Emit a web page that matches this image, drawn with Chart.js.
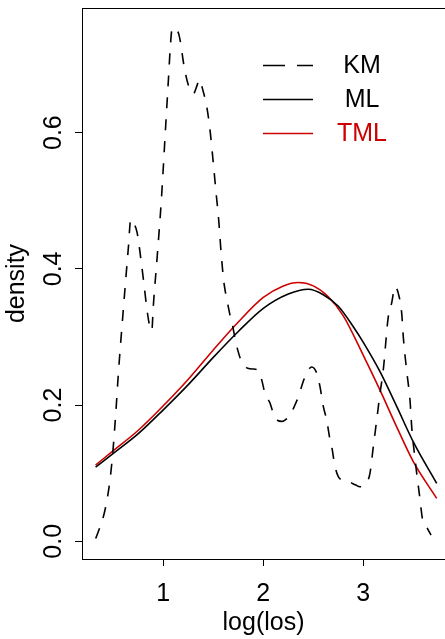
<!DOCTYPE html>
<html>
<head>
<meta charset="utf-8">
<script src="https://cdn.jsdelivr.net/npm/chart.js@4.4.1/dist/chart.umd.min.js"></script>
<style>
  html, body { margin: 0; padding: 0; background: #fff; }
  canvas { display: block; }
</style>
</head>
<body>
<canvas id="densityChart" width="445" height="639"></canvas>
<script>
// Tick positions
const xTicks = [1, 2, 3];
const yTicks = [0, 0.2, 0.4, 0.6];

// KM density estimate (dashed)
const kmX = [0.324, 0.367, 0.417, 0.467, 0.497, 0.527, 0.55, 0.60, 0.65, 0.675, 0.69, 0.737, 0.777, 0.807, 0.837, 0.865, 0.885,
  0.90, 0.94, 0.98, 1.02, 1.05, 1.074, 1.09, 1.12, 1.154, 1.17, 1.207, 1.237, 1.27, 1.30, 1.337, 1.357, 1.40, 1.437, 1.467,
  1.497, 1.527, 1.554, 1.58, 1.607, 1.637, 1.67, 1.695, 1.717, 1.744, 1.777, 1.844, 1.90, 1.937, 1.984, 2.017, 2.067, 2.10,
  2.14, 2.184, 2.217, 2.267, 2.31, 2.35, 2.40, 2.434, 2.484, 2.534, 2.567, 2.60, 2.634, 2.667, 2.684, 2.717, 2.75, 2.80,
  2.85, 2.92, 2.967, 3.034, 3.067, 3.10, 3.134, 3.167, 3.20, 3.25, 3.284, 3.317, 3.35, 3.384, 3.40, 3.434, 3.467, 3.484,
  3.51, 3.534, 3.56, 3.594, 3.634, 3.677];
const kmY = [0.004, 0.021, 0.046, 0.090, 0.134, 0.193, 0.245, 0.340, 0.430, 0.473, 0.470, 0.454, 0.413, 0.377, 0.340, 0.315, 0.309,
  0.345, 0.420, 0.500, 0.600, 0.675, 0.734, 0.754, 0.753, 0.745, 0.734, 0.698, 0.677, 0.662, 0.657, 0.669, 0.678, 0.660, 0.636, 0.604,
  0.560, 0.513, 0.472, 0.420, 0.379, 0.354, 0.330, 0.315, 0.298, 0.281, 0.266, 0.254, 0.253, 0.252, 0.237, 0.217, 0.203, 0.188,
  0.178, 0.176, 0.178, 0.185, 0.198, 0.212, 0.235, 0.247, 0.256, 0.247, 0.227, 0.198, 0.178, 0.149, 0.139, 0.110, 0.095, 0.089,
  0.0875, 0.083, 0.080, 0.086, 0.100, 0.139, 0.178, 0.217, 0.252, 0.330, 0.350, 0.374, 0.364, 0.335, 0.300, 0.250, 0.207, 0.168,
  0.130, 0.100, 0.070, 0.031, 0.021, 0.009];

// ML fit (solid black)
const mlX = [0.323, 0.5, 0.75, 1.0, 1.25, 1.5, 1.75, 2.0, 2.25, 2.45, 2.6, 2.75, 2.9, 3.0, 3.167, 3.334, 3.5, 3.734];
const mlY = [0.109, 0.129, 0.158, 0.193, 0.230, 0.270, 0.308, 0.342, 0.363, 0.370, 0.362, 0.345, 0.315, 0.292, 0.249, 0.198, 0.146, 0.085];

// TML fit (solid red)
const tmlX = [0.323, 0.5, 0.75, 1.0, 1.25, 1.5, 1.75, 2.0, 2.2, 2.35, 2.5, 2.65, 2.8, 3.0, 3.167, 3.334, 3.5, 3.734];
const tmlY = [0.112, 0.133, 0.163, 0.199, 0.238, 0.281, 0.322, 0.358, 0.375, 0.380, 0.375, 0.359, 0.331, 0.273, 0.222, 0.168, 0.117, 0.063];

const RED = '#cd0000';
const FONT_FAMILY = '"Liberation Sans", Arial, Helvetica, sans-serif';
const FONT_SIZE = 25;

const toPoints = (xs, ys) => xs.map((x, i) => ({ x, y: ys[i] }));

// top edge of the box, rotated y labels and the legend
const boxAndLegend = {
  id: 'boxAndLegend',
  afterDraw(chart) {
    const { ctx, chartArea: a, scales: { y } } = chart;
    ctx.save();
    ctx.strokeStyle = '#000';
    ctx.lineWidth = 1;
    ctx.beginPath();
    ctx.moveTo(a.left, a.top + 0.5);
    ctx.lineTo(a.right, a.top + 0.5);
    ctx.stroke();

    ctx.font = `${FONT_SIZE}px ${FONT_FAMILY}`;
    ctx.fillStyle = '#000';
    ctx.textAlign = 'center';
    ctx.textBaseline = 'alphabetic';
    yTicks.forEach(v => {
      ctx.save();
      ctx.translate(a.left - 21, y.getPixelForValue(v));
      ctx.rotate(-Math.PI / 2);
      ctx.fillText(v.toFixed(1), 0, 0);
      ctx.restore();
    });

    // legend
    const lx0 = a.left + 181, lx1 = a.left + 231, tx = a.left + 280;
    chart.data.datasets.forEach((ds, i) => {
      const ly = a.top + 57.5 + i * 34;
      ctx.strokeStyle = ds.borderColor;
      ctx.lineWidth = ds.borderWidth;
      ctx.setLineDash(ds.borderDash ? [22, 12] : []);
      ctx.beginPath();
      ctx.moveTo(lx0, ly);
      ctx.lineTo(lx1, ly);
      ctx.stroke();
      ctx.setLineDash([]);
      ctx.fillStyle = ds.borderColor;
      ctx.textBaseline = 'middle';
      ctx.fillText(ds.label, tx, ly + 1);
    });
    ctx.restore();
  }
};

const axisFont = { family: FONT_FAMILY, size: FONT_SIZE };

new Chart(document.getElementById('densityChart'), {
  type: 'line',
  data: {
    datasets: [
      { label: 'KM', data: toPoints(kmX, kmY), borderColor: '#000', borderWidth: 1.6, borderDash: [11, 11],
        pointRadius: 0, fill: false, cubicInterpolationMode: 'monotone' },
      { label: 'ML', data: toPoints(mlX, mlY), borderColor: '#000', borderWidth: 1.6,
        pointRadius: 0, fill: false, cubicInterpolationMode: 'monotone' },
      { label: 'TML', data: toPoints(tmlX, tmlY), borderColor: RED, borderWidth: 1.6,
        pointRadius: 0, fill: false, cubicInterpolationMode: 'monotone' }
    ]
  },
  options: {
    responsive: false,
    animation: false,
    devicePixelRatio: 1,
    layout: { padding: { top: 8, left: 0, right: 0, bottom: 0 } },
    plugins: { legend: { display: false }, tooltip: { enabled: false } },
    scales: {
      x: {
        type: 'linear',
        min: 0.187,
        max: 3.817,
        afterBuildTicks: s => { s.ticks = xTicks.map(v => ({ value: v })); },
        afterFit: s => { s.height = 80; },
        grid: { drawOnChartArea: false, drawTicks: true, tickLength: 7, color: '#000', tickWidth: 1 },
        border: { display: true, color: '#000', width: 1 },
        ticks: { color: '#000', font: axisFont, padding: 13, maxRotation: 0, autoSkip: false, callback: v => String(v) },
        title: { display: true, text: 'log(los)', color: '#000', font: axisFont, padding: { top: 0, bottom: 1 } }
      },
      y: {
        type: 'linear',
        min: -0.026,
        max: 0.783,
        afterBuildTicks: s => { s.ticks = yTicks.map(v => ({ value: v })); },
        afterFit: s => { s.width = 82; },
        grid: { drawOnChartArea: false, drawTicks: true, tickLength: 7, color: '#000', tickWidth: 1 },
        border: { display: true, color: '#000', width: 1 },
        ticks: { display: false },
        title: { display: true, text: 'density', color: '#000', font: axisFont, padding: { top: 2, bottom: 0 } }
      }
    }
  },
  plugins: [boxAndLegend]
});
</script>
</body>
</html>
